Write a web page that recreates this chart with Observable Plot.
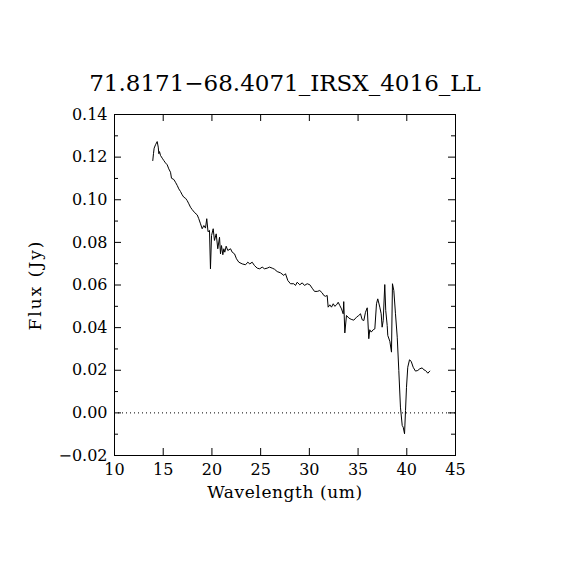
<!DOCTYPE html>
<html>
<head>
<meta charset="utf-8">
<script src="https://cdn.jsdelivr.net/npm/d3@7"></script>
<script src="https://cdn.jsdelivr.net/npm/@observablehq/plot@0.6"></script>
<style>
  html, body { margin: 0; padding: 0; background: #fff; }
  .ylab text { letter-spacing: 2px; }
  .xlab text { letter-spacing: 0.6px; }
</style>
</head>
<body>
<div id="chart"></div>
<script>
const title = "71.8171\u221268.4071_IRSX_4016_LL";
const xLabel = "Wavelength (um)";
const yLabel = "Flux (Jy)";

const wavelength = [
  13.93, 14.00, 14.07, 14.21, 14.38, 14.49, 14.55, 14.62, 14.72, 14.90,
  15.06, 15.23, 15.41, 15.57, 15.75, 15.85, 16.09, 16.26, 16.44, 16.60,
  16.77, 16.95, 17.11, 17.29, 17.46, 17.63, 17.80, 17.97, 18.24, 18.49,
  18.65, 18.83, 19.00, 19.17, 19.34, 19.47, 19.60, 19.75, 19.85, 19.96,
  20.13, 20.26, 20.44, 20.60, 20.78, 20.88, 20.98, 21.12, 21.22, 21.32,
  21.46, 21.63, 21.91, 22.08, 22.32, 22.52, 22.76, 23.11, 23.45, 23.68,
  23.89, 24.13, 24.37, 24.65, 24.91, 25.16, 25.40, 25.67, 25.91, 26.19,
  26.42, 26.70, 27.04, 27.38, 27.55, 27.79, 28.06, 28.40, 28.58, 28.75,
  29.02, 29.27, 29.50, 29.78, 30.05, 30.29, 30.53, 30.81, 31.07, 31.32,
  31.48, 31.66, 31.83, 31.93, 32.10, 32.27, 32.45, 32.61, 32.79, 32.96,
  33.12, 33.30, 33.47, 33.53, 33.64, 33.81, 34.05, 34.29, 34.56, 34.84,
  35.07, 35.25, 35.42, 35.59, 35.76, 35.94, 36.10, 36.20, 36.35, 36.55,
  36.72, 36.89, 37.02, 37.23, 37.37, 37.47, 37.58, 37.74, 37.84, 37.99,
  38.05, 38.26, 38.43, 38.53, 38.67, 38.84, 39.02, 39.18, 39.35, 39.53,
  39.63, 39.77, 39.87, 39.97, 40.10, 40.28, 40.45, 40.66, 40.89, 41.13,
  41.34, 41.58, 41.75, 41.92, 42.16, 42.36
];
const flux = [
  0.1184, 0.1216, 0.1242, 0.1258, 0.1273, 0.1247, 0.1216, 0.1226, 0.1208, 0.1195,
  0.1184, 0.1173, 0.1164, 0.1145, 0.1129, 0.1101, 0.1095, 0.1082, 0.1067, 0.1051,
  0.1039, 0.1023, 0.1012, 0.1007, 0.0996, 0.0981, 0.0965, 0.0954, 0.0939, 0.0929,
  0.0911, 0.0887, 0.0864, 0.0879, 0.0867, 0.0911, 0.0850, 0.0856, 0.0676, 0.0832,
  0.0864, 0.0809, 0.0840, 0.0770, 0.0824, 0.0746, 0.0785, 0.0742, 0.0770, 0.0754,
  0.0782, 0.0762, 0.0770, 0.0754, 0.0746, 0.0723, 0.0707, 0.0699, 0.0695, 0.0707,
  0.0699, 0.0707, 0.0691, 0.0679, 0.0676, 0.0684, 0.0676, 0.0679, 0.0684, 0.0679,
  0.0674, 0.0663, 0.0657, 0.0645, 0.0653, 0.0621, 0.0606, 0.0606, 0.0598, 0.0613,
  0.0601, 0.0610, 0.0598, 0.0606, 0.0601, 0.0585, 0.0570, 0.0570, 0.0574, 0.0563,
  0.0551, 0.0547, 0.0551, 0.0496, 0.0507, 0.0496, 0.0512, 0.0500, 0.0507, 0.0519,
  0.0504, 0.0488, 0.0465, 0.0522, 0.0375, 0.0457, 0.0445, 0.0439, 0.0435, 0.0449,
  0.0457, 0.0465, 0.0437, 0.0433, 0.0472, 0.0493, 0.0348, 0.0390, 0.0379, 0.0390,
  0.0394, 0.0512, 0.0535, 0.0496, 0.0465, 0.0402, 0.0433, 0.0602, 0.0480, 0.0410,
  0.0363, 0.0336, 0.0285, 0.0606, 0.0574, 0.0465, 0.0355, 0.0199, 0.0027, -0.0059,
  -0.0067, -0.0098, 0.0011, 0.0120, 0.0214, 0.0249, 0.0242, 0.0214, 0.0196, 0.0199,
  0.0207, 0.0211, 0.0202, 0.0199, 0.0186, 0.0196
];

const xTickLabels = [10, 15, 20, 25, 30, 35, 40, 45];
const xMajorTicks = [15, 20, 25, 30, 35, 40];
const yTickLabels = [-0.02, 0, 0.02, 0.04, 0.06, 0.08, 0.10, 0.12, 0.14];
const yMajorTicks = [0, 0.02, 0.04, 0.06, 0.08, 0.10, 0.12];
const yMinorTicks = [-0.01, 0.01, 0.03, 0.05, 0.07, 0.09, 0.11, 0.13];

const data = wavelength.map((w, i) => ({w, f: flux[i]}));

const W = 570, H = 570;
const mL = 114, mR = 115, mT = 114, mB = 115;
const innerH = H - mT - mB;
const innerW = W - mL - mR;
const major = 7, minor = 4;
const fmt = d => (d < 0 ? "\u2212" : "") + Math.abs(d).toFixed(2);

const chart = Plot.plot({
  width: W,
  height: H,
  marginLeft: mL,
  marginRight: mR,
  marginTop: mT,
  marginBottom: mB,
  style: {fontFamily: "DejaVu Serif", fontSize: "16px", color: "black", background: "white"},
  x: {domain: [10, 45], axis: null},
  y: {domain: [-0.02, 0.14], axis: null},
  marks: [
    Plot.ruleY([0], {stroke: "black", strokeWidth: 1, strokeDasharray: "1,3"}),
    Plot.tickX(xMajorTicks, {x: d => d, insetTop: innerH - major, stroke: "black"}),
    Plot.tickX(xMajorTicks, {x: d => d, insetBottom: innerH - major, stroke: "black"}),
    Plot.tickY(yMajorTicks, {y: d => d, insetRight: innerW - major, stroke: "black"}),
    Plot.tickY(yMajorTicks, {y: d => d, insetLeft: innerW - major, stroke: "black"}),
    Plot.tickY(yMinorTicks, {y: d => d, insetRight: innerW - minor, stroke: "black"}),
    Plot.tickY(yMinorTicks, {y: d => d, insetLeft: innerW - minor, stroke: "black"}),
    Plot.axisX({ticks: xTickLabels, tickSize: 0, tickPadding: 8, fontSize: 16, label: null, tickFormat: d => String(d)}),
    Plot.axisY({ticks: yTickLabels, tickSize: 0, tickPadding: 7, fontSize: 16, label: null, tickFormat: fmt}),
    Plot.line(data, {x: "w", y: "f", stroke: "black", strokeWidth: 1}),
    Plot.frame({stroke: "black", strokeWidth: 1}),
    Plot.text([title], {frameAnchor: "top", lineAnchor: "middle", textAnchor: "middle", dy: -31, fontSize: 23, text: d => d}),
    Plot.text([xLabel], {className: "xlab", frameAnchor: "bottom", lineAnchor: "middle", textAnchor: "middle", dy: 37, fontSize: 17, text: d => d}),
    Plot.text([yLabel], {className: "ylab", frameAnchor: "left", lineAnchor: "middle", textAnchor: "middle", dx: -79, rotate: -90, fontSize: 17, text: d => d})
  ]
});

document.getElementById("chart").appendChild(chart);
</script>
</body>
</html>
